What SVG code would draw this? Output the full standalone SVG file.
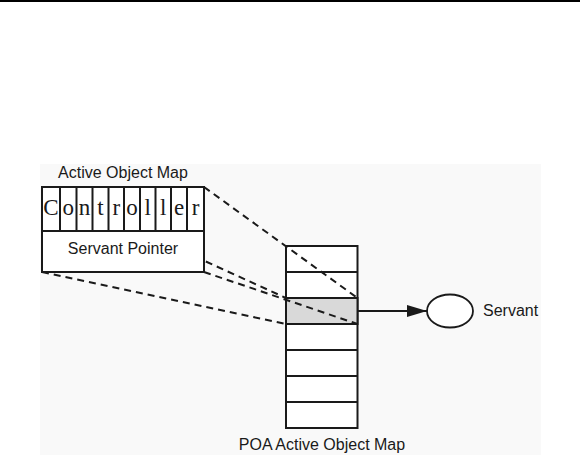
<svg xmlns="http://www.w3.org/2000/svg" width="580" height="455" viewBox="0 0 580 455">
<style>
.sans{font-family:"Liberation Sans",Arial,sans-serif;font-size:16px;fill:#1a1a1a}
.ser{font-family:"Liberation Serif","Times New Roman",serif;font-size:23px;fill:#1a1a1a;text-anchor:middle}
.dash{stroke:#1a1a1a;stroke-width:2;stroke-dasharray:7,5;fill:none}
.box{fill:#fff;stroke:#1a1a1a;stroke-width:2}
.cell{fill:#fff;stroke:#1a1a1a;stroke-width:2}
</style>
<defs>
<marker id="ah" viewBox="0 0 20 12" refX="20" refY="6" markerWidth="20" markerHeight="12" markerUnits="userSpaceOnUse" orient="auto">
<path d="M0,0 L20,6 L0,12 z" fill="#1a1a1a"/>
</marker>
</defs>
<rect x="0" y="0" width="580" height="455" fill="#fff"/>
<line x1="0" y1="1" x2="580" y2="1" stroke="#000" stroke-width="2"/>
<rect x="40" y="164" width="501" height="291" fill="#f9f9f9"/>
<g id="poa-map">
<rect class="cell" x="286" y="246" width="71.5" height="182"/>
<rect x="286" y="298" width="71.5" height="26" fill="#d9d9d9" stroke="#1a1a1a" stroke-width="2"/>
<path d="M286,272H357.5M286,298H357.5M286,324H357.5M286,350H357.5M286,376H357.5M286,402H357.5" stroke="#1a1a1a" stroke-width="2"/>
<text class="sans" x="322" y="450" text-anchor="middle">POA Active Object Map</text>
</g>
<g id="connectors">
<line class="dash" x1="204" y1="187" x2="357.5" y2="298"/>
<line class="dash" x1="42" y1="187" x2="286" y2="298"/>
<line class="dash" x1="204" y1="272" x2="357.5" y2="324"/>
<line class="dash" x1="42" y1="272" x2="286" y2="324"/>
<line x1="357.5" y1="311" x2="427" y2="311" stroke="#1a1a1a" stroke-width="1.8" marker-end="url(#ah)"/>
</g>
<g id="active-object-map">
<text class="sans" x="123" y="178" text-anchor="middle">Active Object Map</text>
<rect class="box" x="42" y="187" width="162" height="85"/>
<path d="M42,231H204M60,187V231M76.5,187V231M92.5,187V231M108.5,187V231M124,187V231M140,187V231M155.5,187V231M171,187V231M187,187V231" stroke="#1a1a1a" stroke-width="2"/>
<text class="ser" x="51" y="215">C</text>
<text class="ser" x="68.25" y="215">o</text>
<text class="ser" x="84.5" y="215">n</text>
<text class="ser" x="100.5" y="215">t</text>
<text class="ser" x="116.25" y="215">r</text>
<text class="ser" x="132" y="215">o</text>
<text class="ser" x="147.75" y="215">l</text>
<text class="ser" x="163.25" y="215">l</text>
<text class="ser" x="179" y="215">e</text>
<text class="ser" x="195.5" y="215">r</text>
<text class="sans" x="123" y="254" text-anchor="middle">Servant Pointer</text>
</g>
<g id="servant">
<ellipse cx="450" cy="311" rx="23" ry="16.5" fill="#fff" stroke="#1a1a1a" stroke-width="1.8"/>
<text class="sans" x="483" y="316">Servant</text>
</g>
</svg>
